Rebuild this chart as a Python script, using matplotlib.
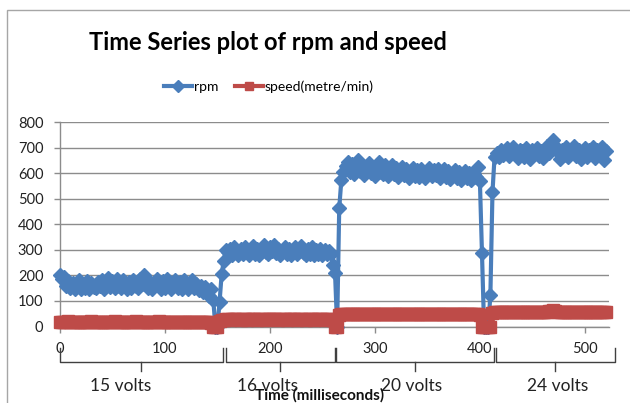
import numpy as np
import matplotlib.pyplot as plt
import matplotlib.transforms as mtransforms
from matplotlib.patches import Rectangle

plt.rcParams['font.family'] = ['Lato', 'DejaVu Sans']

# samples are plotted every 2 ms
step = 2

rpm_15v = [200, 185, 195, 160, 178, 150, 172, 145, 160, 180,
           145, 168, 150, 178, 145, 170, 155, 150, 175, 158,
           180, 145, 170, 190, 155, 178, 150, 185, 160, 150,
           180, 165, 148, 175, 152, 182, 160, 150, 185, 165,
           200, 178, 152, 175, 145, 170, 185, 160, 148, 178,
           152, 185, 160, 145, 172, 180, 150, 175, 148, 182,
           158, 145, 172, 180, 150, 168, 142, 160, 135, 155,
           130, 120, 145, 105, 0, 0, 96, 205, 258, 300]
rpm_16v = [290, 305, 280, 310, 290, 278, 302, 285, 310, 292,
           280, 305, 315, 285, 302, 280, 308, 318, 292, 282,
           310, 295, 320, 288, 305, 280, 300, 312, 285, 305,
           278, 298, 310, 282, 300, 314, 288, 280, 305, 285,
           310, 278, 300, 282, 305, 280, 298, 285, 295, 282,
           240, 210, 0, 462, 572, 605]
rpm_20v = [628, 645, 605, 635, 595, 625, 650, 610, 632, 592,
           615, 640, 600, 625, 590, 620, 645, 605, 595, 630,
           588, 615, 632, 595, 620, 585, 612, 625, 592, 615,
           580, 610, 622, 590, 612, 585, 615, 595, 580, 610,
           620, 588, 612, 592, 615, 580, 605, 615, 585, 608,
           578, 602, 612, 582, 605, 572, 598, 610, 580, 602,
           575, 598, 585, 625, 570, 286, 0, 0, 0, 123, 526, 665]
rpm_24v = [680, 665, 692, 670, 688, 698, 668, 690, 702, 675,
           660, 692, 685, 662, 698, 672, 655, 690, 675, 700,
           668, 688, 660, 692, 708, 678, 702, 730, 708, 682,
           655, 692, 670, 702, 662, 690, 678, 705, 668, 692,
           655, 688, 698, 665, 690, 675, 702, 660, 692, 678,
           702, 650, 688]

speed_15v = [18, 19, 17, 18, 20, 18, 17, 19, 18, 17,
             18, 19, 18, 17, 18, 20, 19, 18, 17, 18,
             19, 18, 17, 18, 19, 18, 20, 18, 17, 18,
             19, 18, 18, 17, 19, 18, 20, 19, 18, 17,
             18, 19, 18, 17, 18, 19, 18, 20, 18, 17,
             18, 19, 17, 18, 19, 18, 17, 18, 19, 18,
             17, 18, 19, 18, 17, 18, 19, 18, 17, 18,
             18, 18, 12, 0, 0, 0, 22, 26, 27, 28]
speed_16v = [28, 27, 29, 28, 30, 28, 27, 29, 28, 27,
             28, 29, 28, 30, 27, 28, 29, 28, 27, 28,
             29, 28, 30, 28, 27, 29, 28, 28, 27, 29,
             28, 30, 28, 27, 28, 29, 28, 27, 28, 29,
             28, 27, 29, 28, 30, 28, 27, 28, 29, 28,
             27, 0, 0, 45, 48, 49]
speed_20v = [48, 49, 47, 48, 50, 48, 49, 47, 48, 50,
             49, 48, 47, 48, 49, 50, 48, 47, 48, 49,
             48, 50, 49, 48, 47, 48, 49, 48, 50, 48,
             47, 48, 49, 48, 47, 49, 48, 50, 48, 47,
             48, 49, 48, 47, 48, 50, 49, 48, 47, 48,
             49, 48, 47, 48, 49, 48, 50, 48, 47, 48,
             49, 48, 47, 48, 46, 0, 0, 0, 0, 0, 52, 55]
speed_24v = [56, 55, 57, 56, 58, 56, 55, 57, 56, 55,
             56, 57, 56, 58, 55, 56, 57, 56, 55, 56,
             57, 56, 58, 56, 57, 59, 61, 63, 60, 57,
             56, 55, 57, 56, 58, 56, 55, 57, 56, 58,
             56, 55, 57, 56, 58, 57, 56, 55, 57, 56,
             58, 56, 57]

rpm = rpm_15v + rpm_16v + rpm_20v + rpm_24v
speed = speed_15v + speed_16v + speed_20v + speed_24v
time_ms = np.arange(len(rpm)) * step

# voltage groups on the category axis (start, end in ms) and label positions
volt_labels = ['15 volts', '16 volts', '20 volts', '24 volts']
volt_start = [0, 158, 263, 415]
volt_end = [155, 262, 413, 529]
volt_label_x = [58, 198, 335, 474]

blue = '#4A7EBB'
red = '#BE4B48'
grid_col = '#8C8C8C'

W, H = 630, 403
fig = plt.figure(figsize=(W / 100, H / 100), dpi=100)
ax = fig.add_axes([60 / W, 1 - 326.5 / H, 549 / W, 204.5 / H])

ax.plot(time_ms, rpm, color=blue, lw=3, marker='D', ms=7, mec=blue,
        mfc=blue, clip_on=False, zorder=3, label='rpm')
ax.plot(time_ms, speed, color=red, lw=5, marker='s', ms=8, mec=red,
        mfc=red, clip_on=False, zorder=4, label='speed(metre/min)')

ax.set_xlim(0, 523)
ax.set_ylim(0, 800)
ax.set_yticks(range(0, 801, 100))
ax.set_xticks(range(0, 501, 100))
ax.grid(axis='y', color=grid_col, lw=1)
ax.set_axisbelow(True)
for s in ['top', 'right']:
    ax.spines[s].set_visible(False)
for s in ['left', 'bottom']:
    ax.spines[s].set_color(grid_col)
    ax.spines[s].set_linewidth(1)
ax.tick_params(axis='y', length=4, width=1, color=grid_col, pad=8,
               labelsize=10.5, labelcolor='#222222')
ax.tick_params(axis='x', length=4, width=1, color=grid_col, pad=7,
               labelsize=10.5, labelcolor='#222222')

# multi level category brackets
tr = mtransforms.blended_transform_factory(ax.transData, fig.transFigure)
y_top = 1 - 348 / H
y_mid = 1 - 362 / H
y_tick = 1 - 371 / H
for a, b in zip(volt_start, volt_end):
    ax.plot([a, a, b, b], [y_top, y_mid, y_mid, y_top], color='#404040',
            lw=1, transform=tr, clip_on=False)
    c = (a + b) / 2
    ax.plot([c, c], [y_mid, y_tick], color='#404040', lw=1,
            transform=tr, clip_on=False)
for lab, lx in zip(volt_labels, volt_label_x):
    ax.text(lx, 1 - 386 / H, lab, transform=tr, ha='center', va='center',
            fontsize=12.5, color='#222222')

fig.text(320 / W, 1 - 395 / H, 'Time (milliseconds)', ha='center',
         va='center', fontsize=11, fontweight='bold', color='#111111')

fig.text(268 / W, 1 - 42 / H, 'Time Series plot of rpm and speed',
         ha='center', va='center', fontsize=17, fontweight='bold')

leg = fig.legend(loc='center', bbox_to_anchor=(269 / W, 1 - 87 / H), ncol=2,
                 frameon=False, fontsize=10, handlelength=2.0,
                 handletextpad=0.15, columnspacing=1.2)
for h in leg.legend_handles:
    h.set_markersize(6)
    h.set_linewidth(3)

fig.patches.append(Rectangle((7 / W, -0.1), 1.2, 1.1 - 10 / H,
                             transform=fig.transFigure, fill=False,
                             ec='#A6A6A6', lw=1))

fig.savefig('out.png', dpi=100)
